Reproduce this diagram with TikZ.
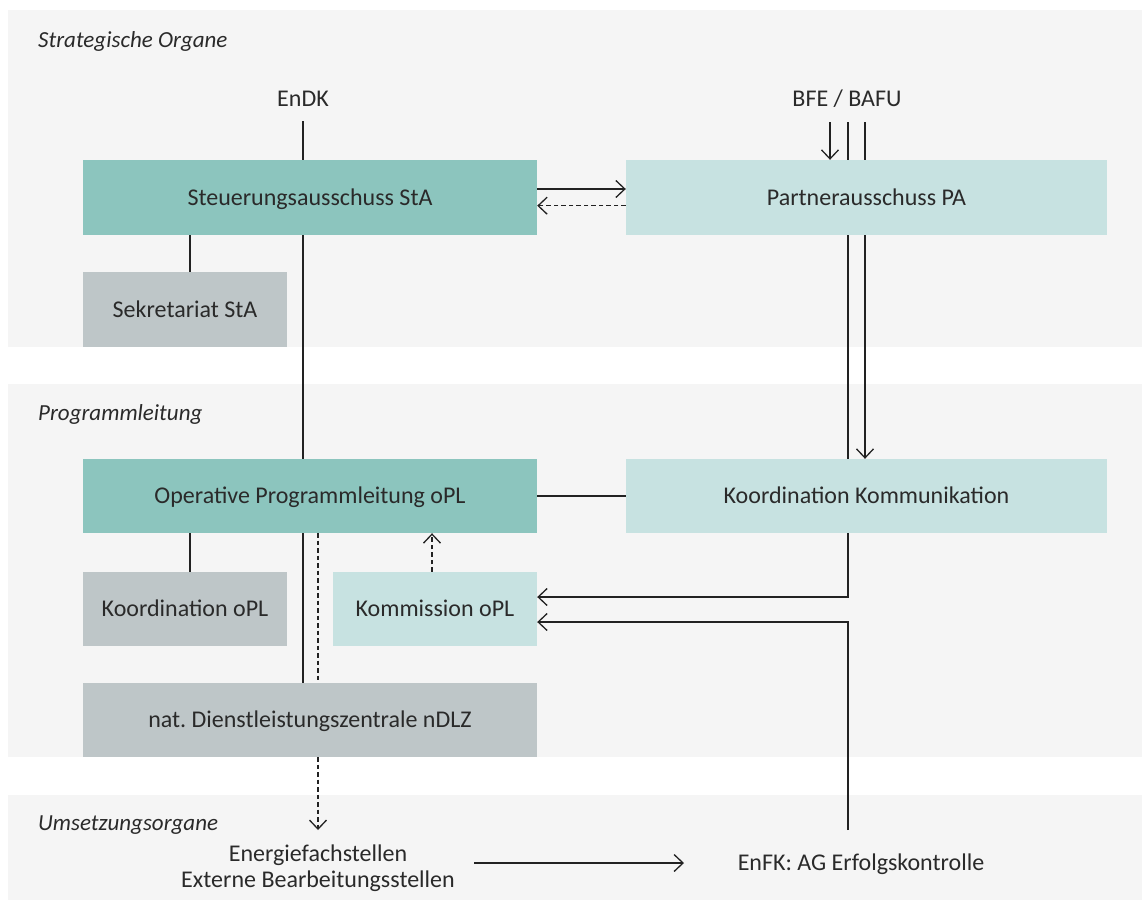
\documentclass[tikz,border=0pt]{standalone}
\usepackage{fontspec}
\setmainfont{Carlito}
\usetikzlibrary{arrows.meta}
\definecolor{band}{HTML}{F5F5F5}
\definecolor{teal}{HTML}{8CC5BE}
\definecolor{lteal}{HTML}{C7E2E1}
\definecolor{grayb}{HTML}{BEC6C8}
\definecolor{ink}{HTML}{222222}
\definecolor{txt}{HTML}{2A2A2A}
\frenchspacing
\begin{document}
\begin{tikzpicture}[x=1pt,y=-1pt,
  box/.style={rectangle,inner sep=0pt,font=\fontsize{24}{26}\selectfont,text=txt,text height=15.5pt,text depth=0pt},
  wide/.style={box,minimum width=454pt,minimum height=75pt},
  wider/.style={box,minimum width=481pt,minimum height=75pt},
  small/.style={box,minimum width=204pt,minimum height=74pt},
  lbl/.style={inner sep=0pt,font=\fontsize{24}{26}\selectfont,text=txt,text height=15.5pt,text depth=0pt},
  multi/.style={inner sep=0pt,font=\fontsize{24}{26}\selectfont,text=txt},
  sec/.style={inner sep=0pt,anchor=west,font=\fontsize{23}{26}\selectfont\itshape,text=txt,text height=15pt,text depth=0pt},
  ln/.style={draw=ink,line width=1.3pt},
  arr/.style={ln,-{Straight Barb[length=9pt,width=17pt,line width=1.3pt]}},
  dsh/.style={dash pattern=on 4.5pt off 3pt}
]
\useasboundingbox (0,0) rectangle (1142,900);
\fill[white] (0,0) rectangle (1142,900);
% bands
\fill[band] (8,10) rectangle (1142,347);
\fill[band] (8,384) rectangle (1142,757);
\fill[band] (8,795) rectangle (1142,900);
\node[sec] (s1) at (38,40) {Strategische Organe};
\node[sec] (s2) at (38,413) {Programmleitung};
\node[sec] (s3) at (38,822.5) {Umsetzungsorgane};
% nodes
\node[wide,fill=teal] (StA) at (310,197.5) {Steuerungsausschuss StA};
\node[wider,fill=lteal] (PA) at (866.5,197.5) {Partnerausschuss PA};
\node[small,fill=grayb,minimum height=75pt] (Sek) at (185,309.5) {Sekretariat StA};
\node[wide,fill=teal,minimum height=74pt] (oPL) at (310,496) {Operative Programmleitung oPL};
\node[wider,fill=lteal,minimum height=74pt] (KK) at (866.5,496) {Koordination Kommunikation};
\node[small,fill=grayb] (KoPL) at (185,609) {Koordination oPL};
\node[small,fill=lteal] (Kom) at (435,609) {Kommission oPL};
\node[wide,fill=grayb,minimum height=74pt] (nDLZ) at (310,720) {nat. Dienstleistungszentrale nDLZ};
\node[lbl] (EnDK) at (303,98.5) {EnDK};
\node[lbl] (BFE) at (847,98.5) {BFE / BAFU};
\node[multi,align=center] (Ext) at (318,868) {Energiefachstellen\\Externe Bearbeitungsstellen};
\node[lbl] (EnFK) at (861,863) {EnFK: AG Erfolgskontrolle};
% helper coordinates
\coordinate (e1) at (303,121);
\coordinate (b1) at (830,122);
\coordinate (b2) at (848,122);
\coordinate (b3) at (865,122);
\coordinate (d1) at (318,830);
\coordinate (f1) at (848,830);
\coordinate (k1) at (848,597);
\coordinate (k2) at (848,622);
\coordinate (x1) at (474,863);
\coordinate (x2) at (684,863);
\coordinate (c190) at (190,0);
\coordinate (c432) at (432,0);
% connectors
\draw[ln] (e1) -- (e1 |- StA.north);
\draw[ln] (e1 |- StA.south) -- (e1 |- oPL.north);
\draw[ln] (e1 |- oPL.south) -- (e1 |- nDLZ.north);
\draw[ln,dsh] (d1 |- oPL.south) -- (d1 |- nDLZ.north);
\draw[arr,dsh] (d1 |- nDLZ.south) -- (d1);
\draw[arr] ([yshift=8.5pt]StA.east) -- ([yshift=8.5pt]PA.west);
\draw[arr,dsh] ([yshift=-8.2pt]PA.west) -- ([yshift=-8.2pt]StA.east);
\draw[arr] (b1) -- (b1 |- PA.north);
\draw[ln] (b2) -- (b2 |- PA.north);
\draw[ln] (b3) -- (b3 |- PA.north);
\draw[ln] (b2 |- PA.south) -- (b2 |- KK.north);
\draw[arr] (b3 |- PA.south) -- (b3 |- KK.north);
\draw[ln] (c190 |- StA.south) -- (c190 |- Sek.north);
\draw[ln] (c190 |- oPL.south) -- (c190 |- KoPL.north);
\draw[ln] (oPL.east) -- (KK.west);
\draw[arr,dsh] (c432 |- Kom.north) -- (c432 |- oPL.south);
\draw[arr] (k1 |- KK.south) -- (k1) -- (k1 -| Kom.east);
\draw[arr] (f1) -- (k2) -- (k2 -| Kom.east);
\draw[arr] (x1) -- (x2);
\end{tikzpicture}
\end{document}
